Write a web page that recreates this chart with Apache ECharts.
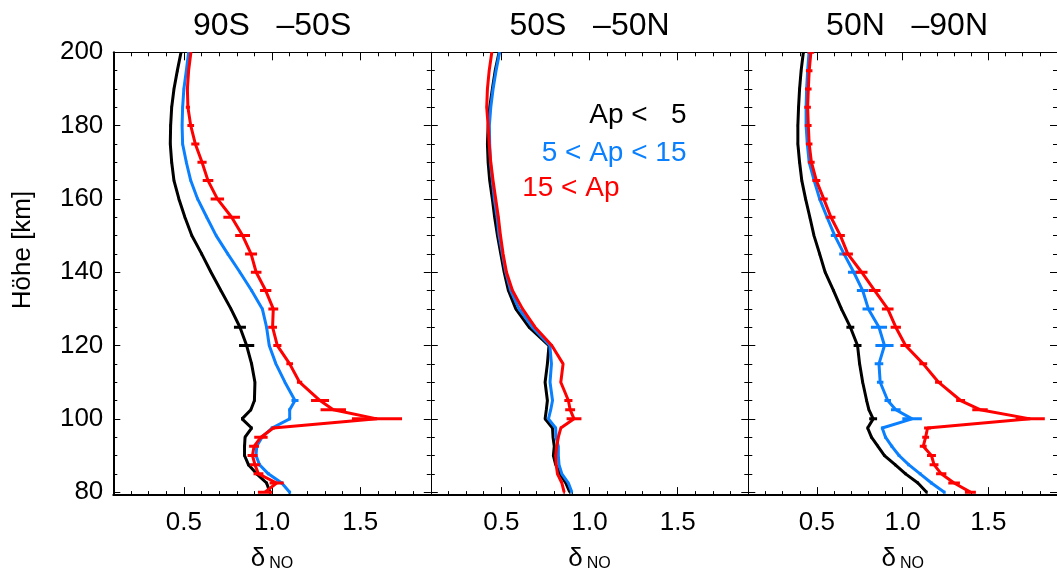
<!DOCTYPE html>
<html><head><meta charset="utf-8">
<script src="https://cdn.jsdelivr.net/npm/echarts@6/dist/echarts.min.js"></script>
<style>html,body{margin:0;padding:0;background:#fff}#c{width:1057px;height:577px}</style>
</head><body><div id="c"></div>
<script>
// ---------- data ----------
const ALT = [200,195,190,185,180,175,170,165,160,155,150,145,140,135,130,125,120,115,110,105,102.5,100,97.5,95,92.5,90,87.5,85,82.5,80];
const PANEL_TITLES = ['90S   \u201350S', '50S   \u201350N', '50N   \u201390N'];
const LEGEND_TEXTS = ['Ap <   5', '5 < Ap < 15', '15 < Ap'];
const Y_TITLE = 'Höhe [km]';

// Panel 1: 90S-50S
const s_black = [.484,.463,.444,.431,.425,.423,.431,.444,.472,.506,.545,.601,.654,.710,.767,.818,.856,.884,.903,.900,.880,.830,.884,.847,.844,.844,.866,.913,.969,.988];
const s_black_err = [.006,.006,.006,.006,.006,.006,.006,.006,.006,.006,.006,.006,.006,.006,.006,.034,.043,.006,.006,.006,.006,.006,.006,.006,.006,.006,.006,.006,.006,.006];
const s_blue = [.527,.514,.500,.493,.490,.493,.514,.539,.578,.630,.683,.749,.818,.884,.945,.969,.984,1.022,1.073,1.130,1.100,1.100,1.000,.943,.913,.909,.929,.979,1.055,1.100];
const s_blue_err = [.006,.006,.006,.006,.006,.006,.006,.006,.006,.006,.006,.006,.006,.006,.006,.006,.006,.006,.006,.020,.008,.008,.008,.008,.008,.008,.008,.008,.008,.008];
const s_red = [.540,.527,.520,.523,.539,.565,.603,.637,.690,.771,.833,.881,.910,.964,1.007,1.003,1.030,1.100,1.156,1.272,1.347,1.595,1.007,.937,.898,.889,.903,.923,1.026,.960];
const s_red_err = [.005,.005,.008,.012,.019,.023,.026,.030,.038,.047,.042,.034,.030,.032,.028,.025,.023,.019,.015,.051,.072,.142,.010,.038,.028,.028,.028,.028,.040,.040];

// Panel 2: 50S-50N
const e_black = [.487,.465,.449,.434,.425,.421,.425,.434,.449,.462,.478,.497,.516,.540,.582,.657,.770,.761,.748,.761,.755,.748,.790,.793,.800,.795,.808,.833,.865,.888];
const e_black_err = [.004,.004,.004,.004,.004,.004,.004,.004,.004,.004,.004,.004,.004,.004,.004,.004,.004,.004,.004,.004,.004,.004,.004,.004,.004,.004,.004,.004,.004,.004];
const e_blue = [.490,.470,.453,.440,.432,.434,.438,.449,.460,.476,.487,.506,.525,.553,.600,.676,.775,.784,.776,.790,.780,.767,.808,.810,.823,.823,.827,.843,.880,.900];
const e_blue_err = [.004,.004,.004,.004,.004,.004,.004,.004,.004,.004,.004,.004,.004,.004,.004,.004,.004,.004,.004,.004,.004,.004,.004,.004,.004,.004,.004,.004,.004,.004];
const e_red = [.446,.431,.421,.417,.425,.431,.440,.453,.468,.483,.495,.510,.529,.563,.620,.691,.786,.850,.837,.880,.890,.912,.837,.823,.814,.808,.811,.818,.843,.856];
const e_red_err = [.005,.005,.005,.005,.005,.005,.005,.005,.005,.005,.005,.005,.005,.005,.005,.005,.005,.005,.005,.023,.028,.042,.005,.005,.005,.005,.005,.005,.005,.005];

// Panel 3: 50N-90N
const n_black = [.421,.408,.399,.393,.389,.389,.399,.412,.434,.459,.483,.516,.548,.597,.643,.695,.737,.749,.767,.790,.803,.828,.796,.818,.856,.894,.956,1.017,1.089,1.140];
const n_black_err = [.006,.006,.006,.006,.006,.006,.006,.006,.006,.006,.006,.006,.006,.006,.006,.023,.023,.006,.006,.006,.006,.023,.006,.006,.006,.006,.006,.006,.006,.006];
const n_blue = [.454,.446,.440,.437,.437,.444,.455,.484,.516,.559,.604,.658,.715,.767,.800,.862,.894,.862,.869,.913,.960,1.055,.881,.900,.937,.979,1.035,1.102,1.168,1.243];
const n_blue_err = [.008,.008,.008,.008,.008,.008,.008,.008,.008,.008,.023,.028,.034,.034,.034,.047,.053,.025,.019,.019,.028,.057,.008,.008,.008,.008,.008,.008,.008,.008];
const n_red = [.465,.455,.450,.446,.450,.455,.468,.497,.540,.582,.637,.680,.761,.837,.913,.960,1.017,1.120,1.209,1.338,1.451,1.744,1.145,1.134,1.120,1.168,1.183,1.225,1.300,1.395];
const n_red_err = [.019,.019,.019,.019,.019,.019,.019,.023,.023,.026,.026,.030,.034,.034,.034,.030,.030,.023,.020,.026,.045,.085,.020,.020,.020,.026,.026,.030,.034,.032];

// ---------- chart ----------
const COLORS = ['#000000', '#0a80ff', '#ff0000'];
const FONT = '"Liberation Sans", Arial, Helvetica, sans-serif';
const PANELS = [
  [[s_black, s_black_err], [s_blue, s_blue_err], [s_red, s_red_err]],
  [[e_black, e_black_err], [e_blue, e_blue_err], [e_red, e_red_err]],
  [[n_black, n_black_err], [n_blue, n_blue_err], [n_red, n_red_err]]
];
const GRID_LEFT = [113.3, 430.8, 748.3];
const GRID_W = 317.5, GRID_TOP = 52.3, GRID_H = 446.4;

function xAx(g, pos) {
  const bottom = pos === 'bottom';
  return {
    type: 'value', gridIndex: g, position: pos, min: 0.1, max: 1.9,
    splitNumber: 4, minInterval: 0.5, maxInterval: 0.5,
    axisLine: {show: true, onZero: false, lineStyle: {color: '#000', width: bottom ? 2 : 1}},
    axisTick: {show: true, inside: true, length: 8, lineStyle: {color: '#000', width: 1}},
    minorTick: {show: true, splitNumber: 5, length: 4, lineStyle: {color: '#000', width: 1}},
    splitLine: {show: false}, minorSplitLine: {show: false},
    axisLabel: {show: bottom, margin: 15, fontSize: 26, color: '#000', fontFamily: FONT,
      showMinLabel: false, showMaxLabel: false, formatter: v => v.toFixed(1)},
    name: bottom ? '{d|\u03b4}{s|NO}' : '',
    nameLocation: 'middle', nameGap: 46,
    nameTextStyle: {color: '#000', fontFamily: FONT, rich: {
      d: {fontSize: 26, lineHeight: 26, verticalAlign: 'top', fontFamily: FONT, color: '#000'},
      s: {fontSize: 16, lineHeight: 16, verticalAlign: 'bottom', padding: [15, 0, 0, 4], fontFamily: FONT, color: '#000'}
    }}
  };
}
function yAx(g, pos) {
  const left = pos === 'left';
  return {
    type: 'value', gridIndex: g, position: pos, min: 79.2, max: 200,
    splitNumber: 6, minInterval: 20, maxInterval: 20,
    axisLine: {show: true, onZero: false, lineStyle: {color: '#000', width: (g === 0 && left) ? 2 : 1}},
    axisTick: {show: true, inside: true, length: 7, lineStyle: {color: '#000', width: 1}},
    minorTick: {show: true, splitNumber: 4, length: 4, lineStyle: {color: '#000', width: 1}},
    splitLine: {show: false}, minorSplitLine: {show: false},
    axisLabel: {show: g === 0 && left, margin: 10, fontSize: 26, color: '#000', fontFamily: FONT,
      showMinLabel: false}
  };
}

const grids = [], xAxes = [], yAxes = [], series = [];
PANELS.forEach((panel, g) => {
  grids.push({left: GRID_LEFT[g], top: GRID_TOP, width: GRID_W, height: GRID_H, containLabel: false});
  xAxes.push(xAx(g, 'bottom'), xAx(g, 'top'));
  yAxes.push(yAx(g, 'left'), yAx(g, 'right'));
  panel.forEach(([xs, es], k) => {
    const color = COLORS[k];
    series.push({
      type: 'line', xAxisIndex: 2 * g, yAxisIndex: 2 * g,
      data: ALT.map((a, i) => [xs[i], a]),
      symbol: 'none', showSymbol: false, clip: true, z: 2 + k,
      lineStyle: {color: color, width: 3}, itemStyle: {color: color}, silent: true
    });
    series.push({
      type: 'custom', xAxisIndex: 2 * g, yAxisIndex: 2 * g, z: 2 + k, silent: true, clip: true,
      encode: {x: 0, y: 1},
      data: ALT.map((a, i) => [xs[i], a, es[i]]),
      renderItem: (params, api) => {
        const x = api.value(0), y = api.value(1), e = api.value(2);
        const p1 = api.coord([x - e, y]), p2 = api.coord([x + e, y]);
        return {type: 'line', shape: {x1: p1[0], y1: p1[1], x2: p2[0], y2: p2[1]},
          style: {stroke: color, lineWidth: 3}};
      }
    });
  });
});

function txt(x, y, text, size, color, align, rot) {
  return {type: 'text', x: x, y: y, rotation: rot || 0, silent: true,
    style: {text: text, fill: color, font: size + 'px ' + FONT, fontSize: size, fontFamily: FONT,
      textAlign: align, align: align, textVerticalAlign: 'middle', verticalAlign: 'middle'}};
}
const graphics = [];
const centers = GRID_LEFT.map(l => l + GRID_W / 2);
PANEL_TITLES.forEach((t, i) => graphics.push(txt(centers[i], 26, t, 32, '#000', 'center')));
graphics.push(txt(686.5, 115.5, LEGEND_TEXTS[0], 28, COLORS[0], 'right'));
graphics.push(txt(686.5, 153, LEGEND_TEXTS[1], 28, COLORS[1], 'right'));
graphics.push(txt(619.5, 188.5, LEGEND_TEXTS[2], 28, COLORS[2], 'right'));
graphics.push(txt(22.5, 250, Y_TITLE, 26, '#000', 'center', Math.PI / 2));

const chart = echarts.init(document.getElementById('c'), null, {renderer: 'canvas'});
chart.setOption({
  animation: false,
  backgroundColor: '#fff',
  grid: grids, xAxis: xAxes, yAxis: yAxes, series: series, graphic: graphics
});
</script></body></html>
